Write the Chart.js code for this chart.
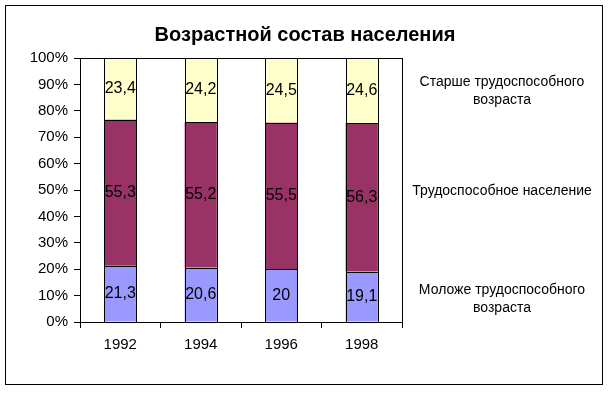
<!DOCTYPE html>
<html>
<head>
<meta charset="utf-8">
<script src="https://cdn.jsdelivr.net/npm/chart.js@4/dist/chart.umd.min.js"></script>
<style>
  body { margin: 0; background: #fff; }
  #wrap { width: 609px; height: 393px; }
</style>
</head>
<body>
<div id="wrap"><canvas id="chart" width="609" height="393"></canvas></div>
<script>
// data
var years = ["1992", "1994", "1996", "1998"];
var young = [21.3, 20.6, 20, 19.1];
var working = [55.3, 55.2, 55.5, 56.3];
var older = [23.4, 24.2, 24.5, 24.6];
var seriesNames = ["Моложе трудоспособного возраста", "Трудоспособное население", "Старше трудоспособного возраста"];
var title = "Возрастной состав населения";

var FONT = "'Liberation Sans', Arial, sans-serif";

// excel-ish extras: frame, title, plot box, bar outlines, value labels, side labels
var excelPlugin = {
  id: 'excel',
  afterDraw: function(chart) {
    var ctx = chart.ctx, a = chart.chartArea;
    ctx.save();
    ctx.strokeStyle = '#000';
    ctx.lineWidth = 1;
    // outer frame
    ctx.strokeRect(5.5, 5.5, 597, 379);
    // plot box
    ctx.strokeRect(Math.round(a.left) + 0.5, Math.round(a.top) + 0.5, Math.round(a.right - a.left), Math.round(a.bottom - a.top));
    // bar outlines, crisp
    chart.data.datasets.forEach(function(ds, i) {
      chart.getDatasetMeta(i).data.forEach(function(bar) {
        var p = bar.getProps(['x', 'y', 'base', 'width'], true);
        var x0 = Math.round(p.x - p.width / 2), x1 = Math.round(p.x + p.width / 2);
        var y0 = Math.round(p.y), y1 = Math.round(p.base);
        ctx.strokeRect(x0 + 0.5, y0 + 0.5, x1 - x0, y1 - y0);
      });
    });
    // title
    ctx.fillStyle = '#000';
    ctx.font = "bold 20px " + FONT;
    ctx.textAlign = 'center';
    ctx.textBaseline = 'middle';
    ctx.fillText(title, 305, 35);
    // value labels
    ctx.font = "16px " + FONT;
    chart.data.datasets.forEach(function(ds, i) {
      chart.getDatasetMeta(i).data.forEach(function(bar, j) {
        var p = bar.getProps(['x', 'y', 'base'], true);
        var txt = String(ds.data[j]).replace('.', ',');
        ctx.fillText(txt, p.x, (p.y + p.base) / 2);
      });
    });
    // series names on the right
    ctx.font = "14px " + FONT;
    var cx = 502;
    ctx.fillText("Старше трудоспособного", cx, 82);
    ctx.fillText("возраста", cx, 100);
    ctx.fillText("Трудоспособное население", cx, 191);
    ctx.fillText("Моложе трудоспособного", cx, 290);
    ctx.fillText("возраста", cx, 308);
    ctx.restore();
  }
};

new Chart(document.getElementById("chart"), {
  type: 'bar',
  data: {
    labels: years,
    datasets: [
      { label: seriesNames[0], data: young, backgroundColor: '#9999FF' },
      { label: seriesNames[1], data: working, backgroundColor: '#993366' },
      { label: seriesNames[2], data: older, backgroundColor: '#FFFFCC' }
    ]
  },
  options: {
    responsive: false,
    animation: false,
    layout: { padding: { top: 58, right: 207, left: 0, bottom: 0 } },
    datasets: {
      bar: {
        borderWidth: 0,
        categoryPercentage: 1,
        barPercentage: 0.4
      }
    },
    plugins: {
      legend: { display: false },
      title: { display: false },
      tooltip: { enabled: false }
    },
    scales: {
      x: {
        stacked: true,
        border: { color: '#000' },
        grid: { drawOnChartArea: false, color: '#000', tickLength: 6, offset: true },
        ticks: { color: '#000', font: { family: FONT, size: 15 }, padding: 8 },
        afterFit: function(s) { s.height = 393 - 322; }
      },
      y: {
        stacked: true,
        min: 0,
        max: 100,
        border: { color: '#000' },
        grid: { drawOnChartArea: false, color: '#000', tickLength: 6 },
        ticks: {
          stepSize: 10,
          color: '#000',
          font: { family: FONT, size: 15 },
          padding: 6,
          callback: function(v) { return v + '%'; }
        },
        afterFit: function(s) { s.width = 80; }
      }
    }
  },
  plugins: [excelPlugin]
});
</script>
</body>
</html>
